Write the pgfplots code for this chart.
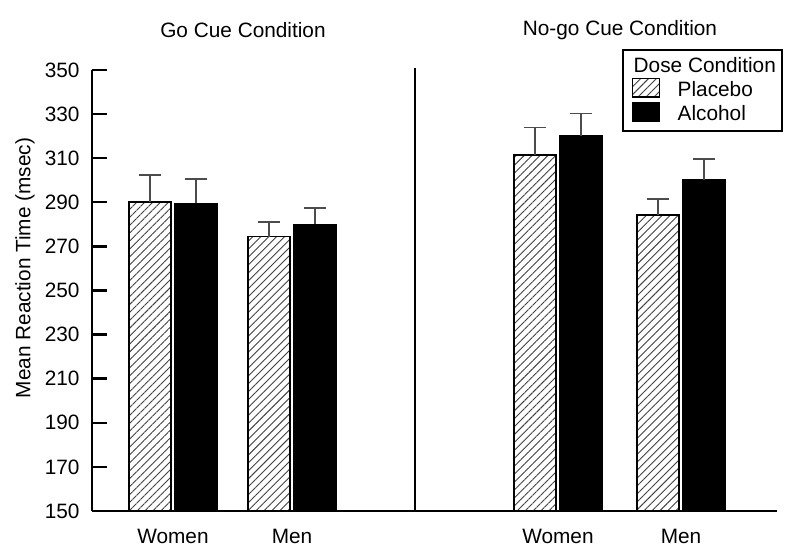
\documentclass[border=0pt]{standalone}
\usepackage{fontspec}
\setmainfont{Liberation Sans}
\usepackage{pgfplots}
\pgfplotsset{compat=1.18}
\usetikzlibrary{patterns.meta}
\begin{document}
\begin{tikzpicture}[font=\fontsize{10.4}{12.5}\selectfont]
\begin{axis}[
  name=ax,
  scale only axis,
  width=342.5pt, height=220.5pt,
  xmin=92, xmax=777,
  ymin=150, ymax=350,
  axis x line*=bottom, axis y line*=left,
  axis line style={line width=1.4pt, black},
  ytick={150,170,...,350},
  xtick={173,292,558,681},
  xticklabels={Women,Men,Women,Men},
  xtick style={draw=none},
  ytick style={line width=1.2pt, black},
  tick align=inside,
  major tick length=7.5pt,
  /pgf/number format/assume math mode=true,
  yticklabel style={xshift=-2.7pt},
  xticklabel style={inner sep=0pt, yshift=-1.4pt},
  ylabel={Mean Reaction Time (msec)},
  ylabel style={at={(axis description cs:-0.0978,0.551)}, anchor=center},
  ybar, bar width=42,
  clip=false,
  legend style={at={(axis description cs:1.0088,1.0476)}, anchor=north east,
    draw=black, line width=0.9pt, inner sep=2.5pt,
    nodes={inner sep=0.6pt, text height=8.2pt, text depth=2.1pt},
    row sep=0pt},
  legend cell align=left,
  legend image code/.code={\draw[#1, line width=0.8pt] (2pt,-3.4pt) rectangle (15.5pt,5.8pt);
     \path (0pt,0pt) (23.5pt,0pt);},
]
\addlegendimage{empty legend}
\addlegendentry{\hspace{-22pt}Dose Condition}
% Placebo
\addplot[bar shift=-23, draw=black, line width=0.8pt,
  pattern={Lines[angle=45,distance=2.8pt,line width=0.45pt]}, pattern color=black!75,
  error bars/.cd, y dir=plus, y explicit,
  error bar style={line width=0.8pt, black!70},
  error mark options={rotate=90, mark size=5.5pt, line width=0.8pt, black!70}]
coordinates {(173,290.0) +- (0,12.5) (292,274.4) +- (0,6.6) (558,311.5) +- (0,12.5) (681,284.2) +- (0,7.3)};
\addlegendentry{Placebo}
% Alcohol
\addplot[bar shift=23, draw=black, line width=0.8pt, fill=black,
  error bars/.cd, y dir=plus, y explicit,
  error bar style={line width=0.8pt, black!70},
  error mark options={rotate=90, mark size=5.5pt, line width=0.8pt, black!70}]
coordinates {(173,289.5) +- (0,11.0) (292,280.0) +- (0,7.3) (558,320.0) +- (0,10.3) (681,300.1) +- (0,9.4)};
\addlegendentry{Alcohol}
\draw[line width=1.1pt] (axis cs:415,150) -- (axis cs:415,351);
\node at (axis cs:243,368.1) {Go Cue Condition};
\node at (axis cs:620,368.1) {No-go Cue Condition};
\coordinate (bbl) at (axis description cs:-0.1343,-0.0771);
\coordinate (btr) at (axis description cs:1.0117,1.1587);
\end{axis}
\pgfresetboundingbox
\useasboundingbox (bbl) rectangle (btr);
\end{tikzpicture}
\end{document}
